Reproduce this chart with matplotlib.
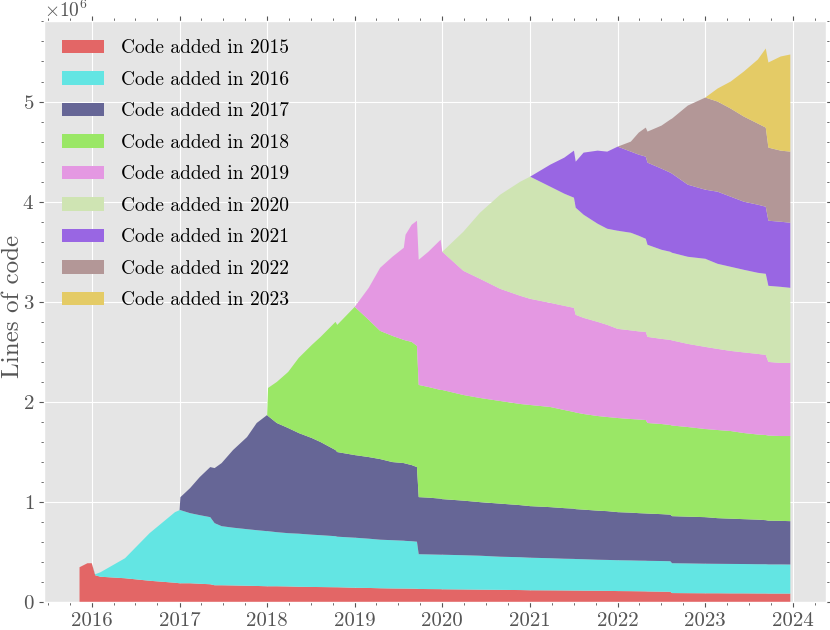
import numpy as np
import matplotlib
matplotlib.use("Agg")
import matplotlib.pyplot as plt
import matplotlib.dates as mdates
from matplotlib.ticker import MultipleLocator
from datetime import datetime, timedelta

nan = np.nan

# sample times (decimal years)
decimal_years = [2015.86, 2015.95, 2016.00, 2016.04, 2016.10, 2016.38, 2016.66, 2016.95,
                 2017.00, 2017.01, 2017.12, 2017.23, 2017.35, 2017.40, 2017.48, 2017.61,
                 2017.77, 2017.88, 2018.00, 2018.01, 2018.11, 2018.24, 2018.36, 2018.51,
                 2018.61, 2018.78, 2018.80, 2019.00, 2019.16, 2019.29, 2019.43, 2019.56,
                 2019.58, 2019.65, 2019.71, 2019.73, 2019.84, 2019.98, 2020.00, 2020.24,
                 2020.43, 2020.66, 2020.89, 2021.00, 2021.23, 2021.39, 2021.50, 2021.52,
                 2021.61, 2021.77, 2021.88, 2022.00, 2022.15, 2022.24, 2022.32, 2022.34,
                 2022.50, 2022.60, 2022.62, 2022.80, 2023.00, 2023.14, 2023.29, 2023.44,
                 2023.60, 2023.69, 2023.72, 2023.86, 2023.97]

# cumulative top of each cohort, millions of lines (nan = cohort not yet present)
top_2015 = [0.35, 0.39, 0.39, 0.27, 0.255, 0.24, 0.215, 0.195,
            0.19, 0.19, 0.19, 0.185, 0.18, 0.17, 0.17, 0.168,
            0.165, 0.163, 0.16, 0.16, 0.16, 0.158, 0.155, 0.153,
            0.152, 0.15, 0.15, 0.145, 0.143, 0.14, 0.138, 0.137,
            0.137, 0.136, 0.135, 0.133, 0.132, 0.131, 0.13, 0.128,
            0.126, 0.124, 0.122, 0.12, 0.119, 0.118, 0.117, 0.117,
            0.116, 0.115, 0.114, 0.112, 0.111, 0.11, 0.109, 0.108,
            0.106, 0.105, 0.092, 0.091, 0.09, 0.09, 0.089, 0.089,
            0.088, 0.088, 0.087, 0.087, 0.087]
top_2016 = [nan, nan, nan, 0.28, 0.30, 0.44, 0.69, 0.90,
            0.92, 0.92, 0.89, 0.87, 0.85, 0.79, 0.76, 0.745,
            0.73, 0.72, 0.71, 0.71, 0.70, 0.69, 0.685, 0.675,
            0.67, 0.66, 0.655, 0.645, 0.635, 0.625, 0.62, 0.615,
            0.613, 0.61, 0.605, 0.48, 0.478, 0.475, 0.475, 0.47,
            0.465, 0.455, 0.45, 0.445, 0.44, 0.435, 0.433, 0.432,
            0.43, 0.425, 0.423, 0.42, 0.418, 0.416, 0.415, 0.414,
            0.412, 0.41, 0.39, 0.388, 0.385, 0.384, 0.383, 0.382,
            0.38, 0.38, 0.378, 0.378, 0.377]
top_2017 = [nan, nan, nan, nan, nan, nan, nan, nan,
            0.92, 1.05, 1.14, 1.25, 1.35, 1.34, 1.39, 1.52,
            1.65, 1.79, 1.87, 1.86, 1.79, 1.74, 1.69, 1.64,
            1.60, 1.52, 1.50, 1.47, 1.45, 1.43, 1.40, 1.39,
            1.385, 1.37, 1.35, 1.05, 1.045, 1.035, 1.03, 1.015,
            1.00, 0.985, 0.97, 0.96, 0.95, 0.94, 0.935, 0.93,
            0.925, 0.915, 0.91, 0.90, 0.895, 0.89, 0.887, 0.886,
            0.88, 0.875, 0.86, 0.855, 0.85, 0.84, 0.835, 0.83,
            0.825, 0.82, 0.815, 0.813, 0.81]
top_2018 = [nan, nan, nan, nan, nan, nan, nan, nan,
            nan, nan, nan, nan, nan, nan, nan, nan,
            nan, nan, 1.87, 2.14, 2.20, 2.30, 2.44, 2.57,
            2.65, 2.80, 2.77, 2.95, 2.82, 2.71, 2.66, 2.62,
            2.615, 2.60, 2.56, 2.17, 2.15, 2.12, 2.12, 2.07,
            2.04, 2.01, 1.98, 1.97, 1.95, 1.92, 1.90, 1.895,
            1.88, 1.86, 1.85, 1.84, 1.83, 1.825, 1.82, 1.79,
            1.78, 1.77, 1.765, 1.75, 1.73, 1.72, 1.71, 1.69,
            1.675, 1.67, 1.665, 1.66, 1.66]
top_2019 = [nan, nan, nan, nan, nan, nan, nan, nan,
            nan, nan, nan, nan, nan, nan, nan, nan,
            nan, nan, nan, nan, nan, nan, nan, nan,
            nan, nan, nan, 2.95, 3.14, 3.34, 3.45, 3.54,
            3.67, 3.77, 3.81, 3.42, 3.50, 3.62, 3.50, 3.31,
            3.23, 3.13, 3.06, 3.03, 2.99, 2.96, 2.94, 2.87,
            2.84, 2.80, 2.77, 2.73, 2.715, 2.705, 2.70, 2.65,
            2.63, 2.62, 2.615, 2.58, 2.55, 2.53, 2.51, 2.495,
            2.48, 2.47, 2.40, 2.39, 2.39]
top_2020 = [nan] * 38 + [
            3.50, 3.70,
            3.89, 4.07, 4.20, 4.25, 4.15, 4.08, 4.04, 3.94,
            3.87, 3.78, 3.73, 3.71, 3.69, 3.66, 3.63, 3.57,
            3.52, 3.50, 3.49, 3.45, 3.43, 3.38, 3.35, 3.32,
            3.29, 3.28, 3.16, 3.15, 3.14]
top_2021 = [nan] * 43 + [
            4.25, 4.37, 4.44, 4.51, 4.40,
            4.49, 4.51, 4.50, 4.55, 4.50, 4.47, 4.45, 4.39,
            4.33, 4.29, 4.28, 4.17, 4.12, 4.10, 4.05, 4.00,
            3.97, 3.95, 3.81, 3.80, 3.79]
top_2022 = [nan] * 51 + [
            4.55, 4.60, 4.69, 4.74, 4.70,
            4.76, 4.82, 4.83, 4.96, 5.04, 5.00, 4.93, 4.85,
            4.78, 4.74, 4.54, 4.51, 4.50]
top_2023 = [nan] * 60 + [
            5.04, 5.13, 5.20, 5.30,
            5.42, 5.53, 5.39, 5.45, 5.47]

labels = ["Code added in %d" % y for y in range(2015, 2024)]
colors = ["#E36666", "#63E5E3", "#666696", "#9AE766", "#E498E2",
          "#CFE4B3", "#9966E3", "#B39797", "#E4CB66"]


def to_date(y):
    year = int(y)
    return datetime(year, 1, 1) + timedelta(days=(y - year) * 365.25)


dates = [to_date(t) for t in decimal_years]

# turn cumulative tops into per-cohort thickness
layers = []
prev = np.zeros(len(decimal_years))
for top in [top_2015, top_2016, top_2017, top_2018, top_2019,
            top_2020, top_2021, top_2022, top_2023]:
    top = np.array(top, dtype=float)
    top = np.where(np.isnan(top), prev, top)
    layers.append((top - prev) * 1e6)
    prev = top

plt.style.use("ggplot")
plt.rcParams.update({
    "font.family": "serif",
    "font.serif": ["cmr10", "DejaVu Serif"],
    "mathtext.fontset": "cm",
    "axes.formatter.use_mathtext": True,
    "axes.unicode_minus": False,
})

fig = plt.figure(figsize=(8.3, 6.3), dpi=100)
ax = fig.add_subplot(111)
fig.subplots_adjust(left=0.053, right=0.995, bottom=0.044, top=0.967)

ax.stackplot(dates, layers, labels=labels, colors=colors, linewidth=0)

ax.xaxis.set_major_locator(mdates.YearLocator())
ax.xaxis.set_major_formatter(mdates.DateFormatter("%Y"))
ax.xaxis.set_minor_locator(mdates.MonthLocator(bymonth=[4, 7, 10]))
ax.yaxis.set_minor_locator(MultipleLocator(0.2e6))
ax.tick_params(which="both", top=True, right=True, labelsize=15)
ax.yaxis.get_offset_text().set_fontsize(14)

ax.set_ylabel("Lines of code", fontsize=18)
ax.yaxis.set_label_coords(-0.026, 0.509)
ax.legend(loc="upper left", fontsize=14, frameon=False,
          labelspacing=0.7, handlelength=2.15, handletextpad=0.85,
          borderaxespad=0.55)

fig.savefig("out.png", dpi=100)
